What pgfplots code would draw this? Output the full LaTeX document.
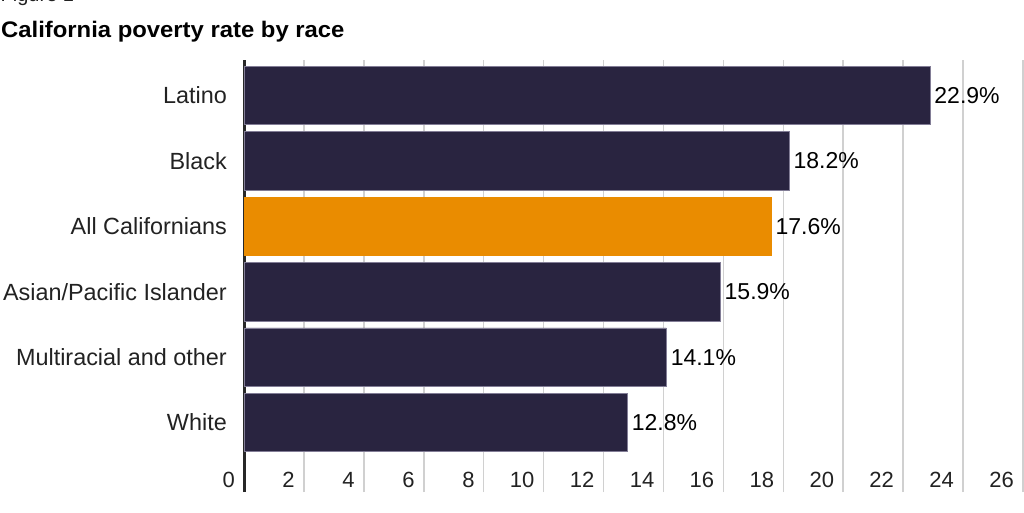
\documentclass[border=0pt]{standalone}
\usepackage{pgfplots}
\pgfplotsset{compat=1.18}
\usepackage{fontspec}
\setmainfont{Liberation Sans}
\definecolor{barnavy}{RGB}{41,36,64}
\definecolor{barorange}{RGB}{234,140,0}
\definecolor{gridgray}{RGB}{208,208,208}
\definecolor{txt}{RGB}{34,34,34}
\definecolor{axisdark}{RGB}{40,40,40}
\definecolor{baredge}{RGB}{130,125,150}
\begin{document}
\begin{tikzpicture}[x=1pt,y=1pt]
\useasboundingbox (0,0) rectangle (1024,512);
\node[anchor=base west, inner sep=0pt, font=\fontsize{20}{24}\selectfont, text=txt] at (0.5,510.8) {Figure 1};
\node[anchor=base west, inner sep=0pt, font=\fontsize{22.5}{26}\selectfont\bfseries, text=black] at (1,474.5) {\scalebox{1.06}[1]{California poverty rate by race}};
\begin{axis}[
  at={(244pt,20pt)}, anchor=south west,
  scale only axis, width=779pt, height=432pt,
  xmin=0, xmax=26, ymin=-1.063, ymax=5.543,
  xbar, bar shift=0pt, bar width=58.5pt,
  axis y line*=left, axis x line*=bottom,
  x axis line style={draw=none},
  y axis line style={-, line width=3pt, draw=axisdark},
  xtick={0,2,...,26}, ytick={0,...,5},
  yticklabels={White, Multiracial and other, Asian/Pacific Islander, All Californians, Black, Latino},
  xmajorgrids, major grid style={gridgray, line width=1.6pt},
  major tick length=0pt,
  xtick style={draw=none}, ytick style={draw=none},
  /pgf/number format/assume math mode=true,
  xticklabel style={anchor=base east, inner sep=0pt, xshift=-9pt, yshift=5pt, font=\fontsize{22}{26}\selectfont, text=txt},
  yticklabel style={anchor=east, inner sep=0pt, xshift=-17pt, font=\fontsize{23.4}{27}\selectfont, text=txt},
  point meta=explicit symbolic,
  nodes near coords,
  every node near coord/.append style={anchor=west, inner sep=0pt, xshift=4pt, font=\fontsize{23}{27}\selectfont, text=black},
]
\addplot[fill=barnavy, draw=baredge, line width=0.6pt] coordinates {
  (22.9,5) [22.9\%]
  (18.2,4) [18.2\%]
  (15.9,2) [15.9\%]
  (14.1,1) [14.1\%]
  (12.8,0) [12.8\%]
};
\addplot[fill=barorange, draw=barorange, line width=0.6pt] coordinates {
  (17.6,3) [17.6\%]
};
\end{axis}
\end{tikzpicture}
\end{document}
